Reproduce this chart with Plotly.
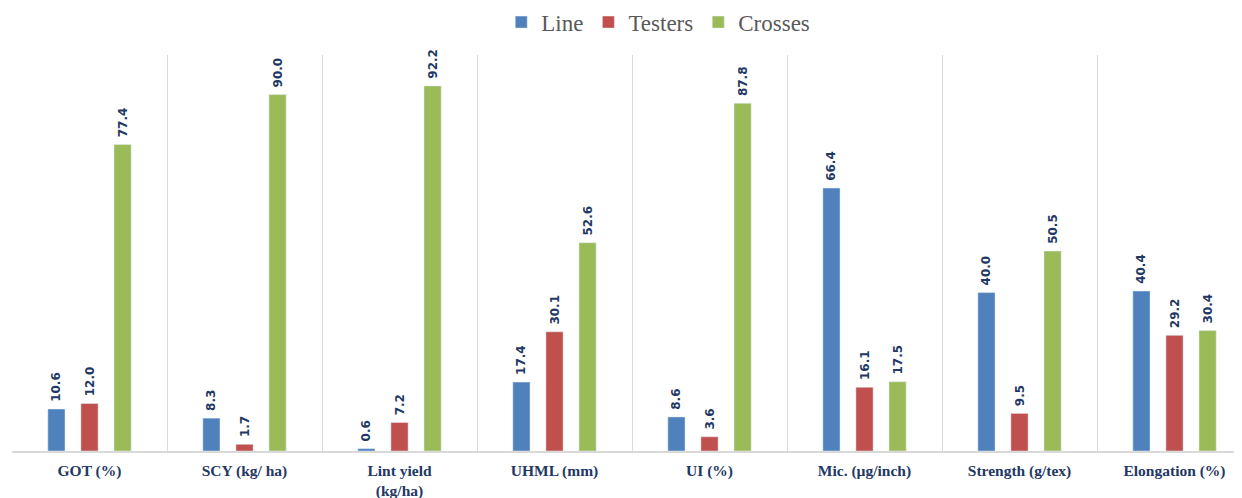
import plotly.graph_objects as go

categories = ["GOT (%)", "SCY (kg/ ha)", "Lint yield<br>(kg/ha)", "UHML (mm)", "UI (%)",
              "Mic. (µg/inch)", "Strength (g/tex)", "Elongation (%)"]
line_vals = [10.6, 8.3, 0.6, 17.4, 8.6, 66.4, 40.0, 40.4]
testers_vals = [12.0, 1.7, 7.2, 30.1, 3.6, 16.1, 9.5, 29.2]
crosses_vals = [77.4, 90.0, 92.2, 52.6, 87.8, 17.5, 50.5, 30.4]

series = [("Line", line_vals, "#4f81bd"),
          ("Testers", testers_vals, "#c0504d"),
          ("Crosses", crosses_vals, "#9bbb59")]

fig = go.Figure()
for name, vals, color in series:
    fig.add_trace(go.Bar(
        name=name, x=categories, y=vals, marker_color=color,
        texttemplate="\u00a0%{y:.1f}", textposition="outside", textangle=-90,
        textfont=dict(family="DejaVu Sans", size=12, color="#1f3864", weight="bold"),
        cliponaxis=False, constraintext="none",
    ))

fig.update_layout(
    width=1242, height=498,
    margin=dict(l=4, r=0, t=47, b=55, autoexpand=False),
    paper_bgcolor="white", plot_bgcolor="white",
    barmode="group", bargap=0.36, bargroupgap=0.48,
    legend=dict(orientation="h", x=0.522, xanchor="center", y=1.083, yanchor="middle",
                font=dict(family="Liberation Serif", size=23, color="#595959"),
                itemwidth=30, traceorder="normal"),
    xaxis=dict(range=[-0.5, 7.487], tickson="boundaries", showgrid=True,
               gridcolor="#d9d9d9", gridwidth=1, ticks="",
               showline=True, linecolor="#d9d9d9", linewidth=2,
               ticklabelstandoff=4,
               tickfont=dict(family="Liberation Serif", size=15.5, color="#1f3864", weight="bold")),
    yaxis=dict(range=[0, 100], visible=False, showgrid=False, zeroline=False),
)

fig.write_html("out.html")
